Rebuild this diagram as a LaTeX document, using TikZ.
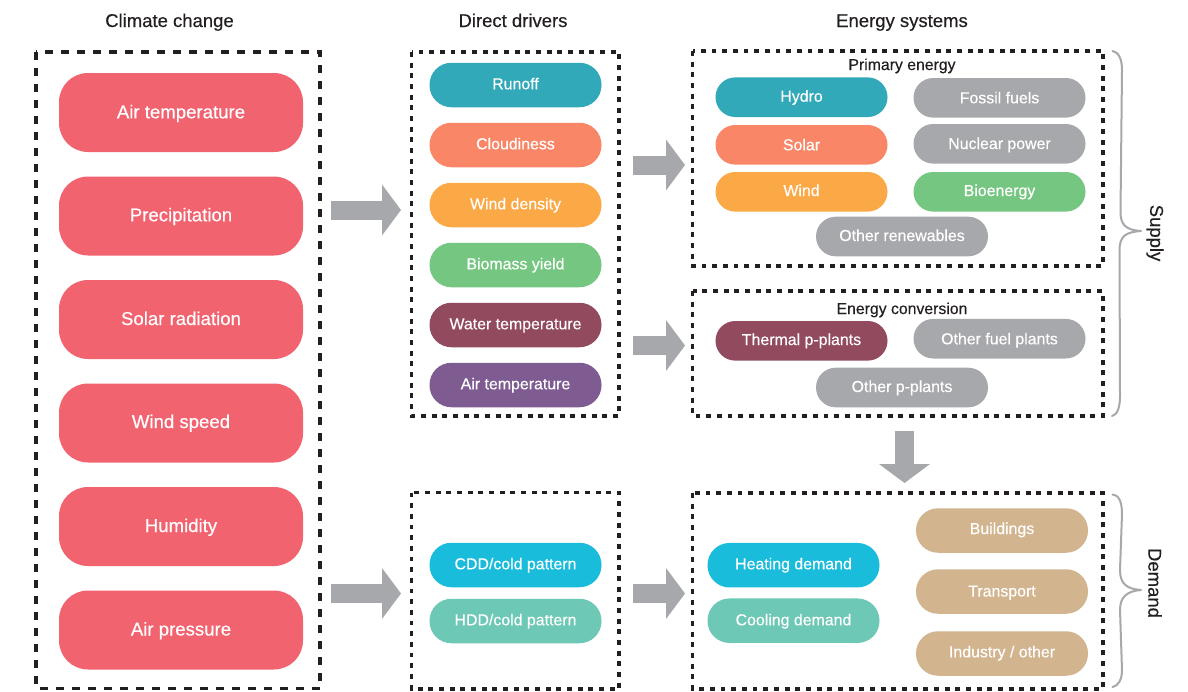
\documentclass[tikz,border=0pt]{standalone}
\usepackage{fontspec}
\setmainfont[FakeBold=0.35]{Liberation Sans}
\usetikzlibrary{arrows.meta}
\definecolor{cred}{HTML}{F26370}
\definecolor{cteal}{HTML}{31A9B8}
\definecolor{corange}{HTML}{F98767}
\definecolor{camber}{HTML}{FBA846}
\definecolor{cgreen}{HTML}{74C681}
\definecolor{cmaroon}{HTML}{924A5F}
\definecolor{cpurple}{HTML}{7E5B91}
\definecolor{cgray}{HTML}{A7A8AB}
\definecolor{ccyan}{HTML}{1ABCDB}
\definecolor{cmint}{HTML}{6DC8B5}
\definecolor{ctan}{HTML}{D2B48F}
\definecolor{cink}{HTML}{231F20}
\tikzset{
  pillbase/.style={inner sep=0pt,outer sep=0pt,text=white,align=center,text depth=0pt},
  bl/.style={text height=#1pt},
  bigpill/.style={pillbase,minimum width=244pt,minimum height=79pt,rounded corners=29pt,font=\fontsize{18.6}{20}\selectfont},
  drvpill/.style={pillbase,minimum width=172pt,minimum height=44.5pt,rounded corners=22pt,bl=8.6,font=\fontsize{15.9}{18}\selectfont},
  enpill/.style={pillbase,minimum width=172pt,minimum height=39.6pt,rounded corners=19.7pt,font=\fontsize{15.9}{18}\selectfont},
  dashbox/.style={draw=cink,line width=3.5pt,dash pattern=on 8.3pt off 7.7pt},
  dotbox/.style={draw=cink,line width=3.8pt,dash pattern=on 4.9pt off 5.77pt},
  title/.style={text=cink,inner sep=0pt,anchor=base,font=\fontsize{18.5}{20}\selectfont},
  subtitle/.style={text=cink,inner sep=0pt,anchor=base,font=\fontsize{15.8}{17}\selectfont},
  fatarrow/.style={draw=cgray,line width=19pt,-{Triangle[length=19pt,width=50pt,sep=0pt]}},
  bracecurve/.style={draw=cgray,line width=2pt,line cap=round,line join=round},
  sidetext/.style={text=cink,inner sep=0pt,rotate=-90,font=\fontsize{18.5}{20}\selectfont}
}
\begin{document}
\begin{tikzpicture}[x=1pt,y=-1pt]
\useasboundingbox (0,0) rectangle (1188,691);
\fill[white] (0,0) rectangle (1188,691);
% titles
\node[title] (t1) at (169.5,27) {Climate change};
\node[title] (t2) at (513,27) {Direct drivers};
\node[title] (t3) at (902,27) {Energy systems};
% boxes
\draw[dashbox] (36,52) rectangle (320,688.5);
\draw[dotbox] (411.5,52) rectangle (619,416);
\draw[dotbox] (692.5,51) rectangle (1103,266);
\draw[dotbox] (692.5,291) rectangle (1103,416);
\draw[dotbox] (411.5,492.5) rectangle (619,689);
\draw[dotbox] (692.5,493) rectangle (1103,689);
% climate pills
\node[bigpill,bl=11.6,fill=cred] (c1) at (181,112.5) {Air temperature};
\node[bigpill,bl=10.6,fill=cred] (c2) at (181,216) {Precipitation};
\node[bigpill,bl=11,fill=cred] (c3) at (181,319.5) {Solar radiation};
\node[bigpill,bl=10,fill=cred] (c4) at (181,423) {Wind speed};
\node[bigpill,bl=11,fill=cred] (c5) at (181,526.5) {Humidity};
\node[bigpill,bl=11,fill=cred] (c6) at (181,630) {Air pressure};
% drivers
\node[drvpill,fill=cteal] (d1) at (515.5,85) {Runoff};
\node[drvpill,fill=corange] (d2) at (515.5,145) {Cloudiness};
\node[drvpill,fill=camber] (d3) at (515.5,205) {Wind density};
\node[drvpill,fill=cgreen] (d4) at (515.5,265) {Biomass yield};
\node[drvpill,fill=cmaroon] (d5) at (515.5,325) {Water temperature};
\node[drvpill,fill=cpurple] (d6) at (515.5,385) {Air temperature};
\node[drvpill,fill=ccyan] (d7) at (515.5,565) {CDD/cold pattern};
\node[drvpill,fill=cmint] (d8) at (515.5,621) {HDD/cold pattern};
% primary energy
\node[subtitle] (s1) at (902,70) {Primary energy};
\node[enpill,bl=9,fill=cteal] (e1) at (801.5,97.2) {Hydro};
\node[enpill,bl=11,fill=corange] (e2) at (801.5,144.8) {Solar};
\node[enpill,bl=8.4,fill=camber] (e3) at (801.5,191.8) {Wind};
\node[enpill,bl=11,fill=cgray] (e4) at (999.5,97.8) {Fossil fuels};
\node[enpill,bl=10.4,fill=cgray] (e5) at (999.5,143.8) {Nuclear power};
\node[enpill,bl=8.4,fill=cgreen] (e6) at (999.5,191.8) {Bioenergy};
\node[enpill,bl=9,fill=cgray] (e7) at (902,236.5) {Other renewables};
% conversion
\node[subtitle] (s2) at (902,314) {Energy conversion};
\node[enpill,bl=8.4,fill=cmaroon] (f1) at (801.5,340.8) {Thermal p-plants};
\node[enpill,bl=11.2,fill=cgray] (f2) at (999.5,338.7) {Other fuel plants};
\node[enpill,bl=9,fill=cgray] (f3) at (902,387.5) {Other p-plants};
% demand
\node[drvpill,bl=8.2,fill=ccyan] (g1) at (793.5,565.2) {Heating demand};
\node[drvpill,bl=9.2,fill=cmint] (g2) at (793.5,620.7) {Cooling demand};
\node[drvpill,bl=7,fill=ctan] (h1) at (1002,530.5) {Buildings};
\node[drvpill,bl=10,fill=ctan] (h2) at (1002,591.5) {Transport};
\node[drvpill,bl=7.6,fill=ctan] (h3) at (1002,653.5) {Industry / other};
% block arrows
\coordinate (a1s) at (331,210); \coordinate (a1e) at (401,210);
\coordinate (a2s) at (331,593.5); \coordinate (a2e) at (401,593.5);
\coordinate (a3s) at (633,165); \coordinate (a3e) at (685,165);
\coordinate (a4s) at (633,345.5); \coordinate (a4e) at (685,345.5);
\coordinate (a5s) at (633,593.5); \coordinate (a5e) at (685,593.5);
\coordinate (a6s) at (904.5,431); \coordinate (a6e) at (904.5,483);
\draw[fatarrow] (a1s) -- (a1e);
\draw[fatarrow] (a2s) -- (a2e);
\draw[fatarrow] (a3s) -- (a3e);
\draw[fatarrow] (a4s) -- (a4e);
\draw[fatarrow] (a5s) -- (a5e);
\draw[fatarrow] (a6s) -- (a6e);
% braces
\draw[bracecurve] (1112.5,51) .. controls (1118,52) and (1122,58) .. (1122,70)
  -- (1120.5,212) .. controls (1120.5,225) and (1126,230) .. (1141,231)
  .. controls (1126,232) and (1119.5,236) .. (1119.5,250)
  -- (1120,396) .. controls (1120,408) and (1117,415) .. (1112,416);
\draw[bracecurve] (1112.5,494.5) .. controls (1118,495) and (1122,500) .. (1122,514)
  -- (1120,570) .. controls (1120,584) and (1127,589) .. (1141,590)
  .. controls (1127,591) and (1120,597) .. (1120,610)
  -- (1122,670) .. controls (1122,680) and (1118,686) .. (1112.5,687);
\node[sidetext] (l1) at (1155,233) {Supply};
\node[sidetext] (l2) at (1155,583) {Demand};
\end{tikzpicture}
\end{document}
